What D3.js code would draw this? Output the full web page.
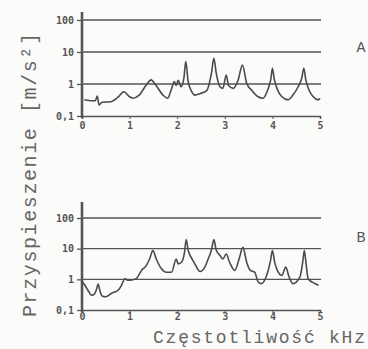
<!DOCTYPE html>
<html>
<head>
<meta charset="utf-8">
<script src="https://cdn.jsdelivr.net/npm/d3@7"></script>
<style>
  html, body { margin: 0; padding: 0; background: #fbfbf9; }
  svg { display: block; }
  .tick text { font-family: "DejaVu Sans Mono", monospace; font-weight: bold; fill: #555; }
</style>
</head>
<body>
<svg width="368" height="349"></svg>
<script>
// frequency [kHz] and acceleration [m/s2], panel A
const freqA = [0.05, 0.2, 0.28, 0.32, 0.36, 0.42, 0.6, 0.75, 0.88, 1.0, 1.07, 1.2, 1.35, 1.45, 1.55, 1.7, 1.8, 1.88, 1.94, 1.98, 2.02, 2.08, 2.14, 2.18, 2.23, 2.3, 2.37, 2.48, 2.62, 2.72, 2.77, 2.82, 2.9, 2.96, 3.03, 3.08, 3.18, 3.28, 3.37, 3.46, 3.56, 3.7, 3.8, 3.9, 3.97, 4.0, 4.04, 4.1, 4.2, 4.33, 4.43, 4.54, 4.62, 4.66, 4.7, 4.76, 4.86, 4.96, 5.0];
const accA = [0.32, 0.3, 0.3, 0.42, 0.22, 0.27, 0.28, 0.38, 0.57, 0.4, 0.36, 0.45, 0.93, 1.35, 0.93, 0.45, 0.36, 0.7, 1.2, 0.9, 1.3, 0.82, 1.5, 5, 1.2, 0.6, 0.45, 0.5, 0.62, 2.2, 6.3, 2.2, 0.82, 0.73, 1.9, 0.9, 0.73, 1.33, 3.9, 1.05, 0.65, 0.4, 0.36, 0.65, 1.5, 3.1, 1.4, 0.7, 0.4, 0.32, 0.45, 0.82, 1.6, 3.1, 1.4, 0.7, 0.4, 0.32, 0.36];

// panel B
const freqB = [0.0, 0.06, 0.14, 0.2, 0.26, 0.3, 0.34, 0.38, 0.43, 0.5, 0.62, 0.76, 0.83, 0.9, 0.97, 1.05, 1.14, 1.25, 1.35, 1.42, 1.49, 1.56, 1.67, 1.77, 1.88, 1.98, 2.02, 2.09, 2.15, 2.19, 2.23, 2.3, 2.37, 2.48, 2.58, 2.65, 2.72, 2.77, 2.82, 2.9, 2.96, 3.03, 3.1, 3.21, 3.3, 3.38, 3.46, 3.53, 3.63, 3.7, 3.77, 3.88, 3.96, 4.0, 4.05, 4.09, 4.2, 4.28, 4.35, 4.43, 4.58, 4.64, 4.67, 4.71, 4.75, 4.9, 4.97];
const accB = [0.85, 0.64, 0.4, 0.3, 0.33, 0.45, 0.7, 0.4, 0.28, 0.27, 0.35, 0.44, 0.64, 1.05, 0.93, 0.95, 1.05, 1.95, 2.8, 4.6, 8.6, 4.6, 2.2, 1.7, 1.7, 4.6, 3.2, 3.6, 7, 20, 9, 5, 3.2, 1.8, 2.5, 4.6, 9, 20, 9, 6, 4.6, 6.7, 3.6, 1.95, 4.6, 11, 3.6, 2, 1.7, 0.82, 0.72, 1.35, 4.1, 8.6, 3.5, 2.2, 1.35, 2.5, 1.2, 0.72, 1.2, 4, 8.6, 3, 1.05, 0.72, 0.64];

const yTicks = [0.1, 1, 10, 100];
const xTicks = [0, 1, 2, 3, 4, 5];
const panelNames = ["A", "B"];

const ink = "#555";
const svg = d3.select("svg");

const x = d3.scaleLinear().domain([0, 5]).range([82, 320]);

const panels = [
  { name: panelNames[0], f: freqA, a: accA, top: 20, bottom: 116, axisTop: 12, labelY: 52, pad: 3 },
  { name: panelNames[1], f: freqB, a: accB, top: 218, bottom: 310, axisTop: 202, labelY: 242, pad: 0 }
];

panels.forEach(p => {
  const y = d3.scaleLog().domain([0.1, 100]).range([p.bottom, p.top]);
  const g = svg.append("g");

  // horizontal grid lines at each decade
  g.append("g").selectAll("line")
    .data(yTicks.slice(1))
    .join("line")
    .attr("x1", x(0)).attr("x2", x(5) + 1)
    .attr("y1", d => y(d)).attr("y2", d => y(d))
    .attr("stroke", ink).attr("stroke-width", 1.3);

  // x axis along 0,1
  const xa = g.append("g")
    .attr("transform", `translate(0,${y(0.1)})`)
    .call(d3.axisBottom(x).tickValues(xTicks).tickSize(3).tickPadding(p.pad).tickFormat(d3.format("d")));
  xa.select(".domain").attr("stroke", ink).attr("stroke-width", 1.6);
  xa.selectAll(".tick line").attr("stroke", ink);
  xa.selectAll(".tick text").attr("font-size", 10);

  // y axis
  const ya = g.append("g")
    .attr("transform", `translate(${x(0)},0)`)
    .call(d3.axisLeft(y).tickValues(yTicks).tickSize(5).tickPadding(3)
      .tickFormat(d => String(d).replace(".", ",")));
  ya.select(".domain").remove();
  ya.selectAll(".tick line").attr("stroke", ink).attr("stroke-width", 1.3);
  ya.selectAll(".tick text").attr("font-size", 10);
  g.append("line")
    .attr("x1", x(0)).attr("x2", x(0))
    .attr("y1", p.axisTop).attr("y2", y(0.1) + 2)
    .attr("stroke", ink).attr("stroke-width", 2.6);

  // spectrum curve
  const data = p.f.map((f, i) => [f, p.a[i]]);
  g.append("path")
    .datum(data)
    .attr("fill", "none")
    .attr("stroke", "#4a4a4a")
    .attr("stroke-width", 1.6)
    .attr("stroke-linejoin", "round")
    .attr("d", d3.line().x(d => x(d[0])).y(d => y(d[1])).curve(d3.curveMonotoneX));

  g.append("text")
    .attr("x", 361).attr("y", p.labelY)
    .attr("text-anchor", "middle")
    .attr("font-family", "Liberation Mono, monospace")
    .attr("font-size", 15)
    .attr("fill", ink)
    .text(p.name);
});

// axis titles
svg.append("text")
  .attr("transform", "translate(36,175) rotate(-90)")
  .attr("text-anchor", "middle")
  .attr("font-family", "Liberation Mono, monospace")
  .attr("font-size", 20)
  .attr("textLength", 284)
  .attr("fill", "#666")
  .text("Przyspieszenie [m/s²]");

svg.append("text")
  .attr("x", 153).attr("y", 343)
  .attr("font-family", "Liberation Mono, monospace")
  .attr("font-size", 18)
  .attr("textLength", 212)
  .attr("fill", "#666")
  .text("Częstotliwość kHz");
</script>
</body>
</html>
